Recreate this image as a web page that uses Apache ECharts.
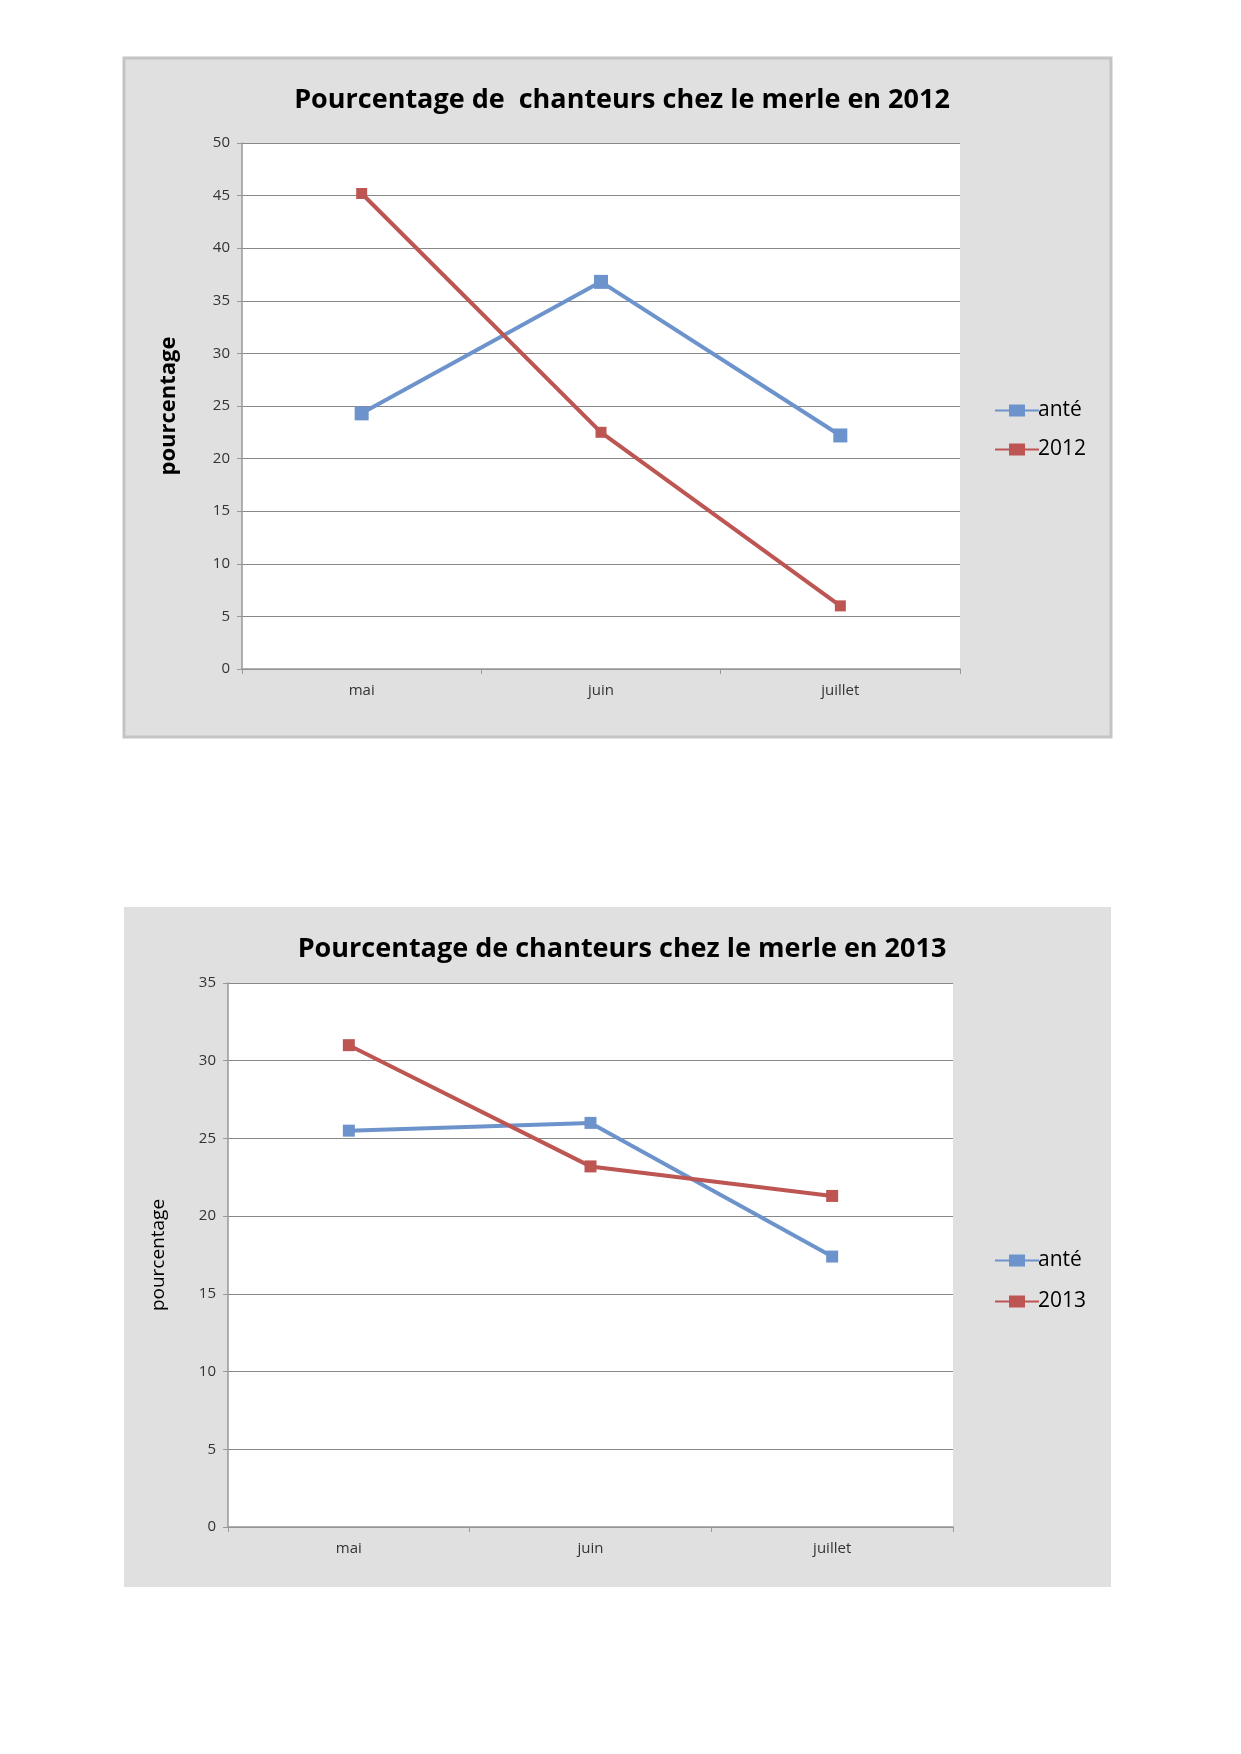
<!DOCTYPE html>
<html><head><meta charset="utf-8">
<script src="https://cdn.jsdelivr.net/npm/echarts@6/dist/echarts.min.js"></script>
<style>html,body{margin:0;background:#fff}#c{width:1241px;height:1754px}</style>
</head><body><div id="c"></div>
<script>
const categories = ['mai','juin','juillet'];
const ante2012 = [24.3, 36.8, 22.2];
const s2012 = [45.2, 22.5, 6.0];
const ante2013 = [25.5, 26.0, 17.4];
const s2013 = [31.0, 23.2, 21.3];
const BLUE = '#6d93cc', RED = '#bd5553';
const chart = echarts.init(document.getElementById('c'));
const font = 'Open Sans';
function xAxis(i){return {type:'category',gridIndex:i,data:categories,boundaryGap:true,
 axisLine:{lineStyle:{color:'#999',width:1.5}},axisTick:{show:true,alignWithLabel:false,length:5,lineStyle:{color:'#999'}},
 axisLabel:{color:'#333',fontSize:15,fontFamily:font,margin:14}};}
function yAxis(i,max){return {type:'value',gridIndex:i,min:0,max:max,interval:5,name:'pourcentage',nameLocation:'middle',nameGap:i?60:62,
 nameTextStyle:{fontSize:i?19:22,fontWeight:i?'normal':'bold',fontFamily:font,color:'#000'},
 axisLine:{show:true,lineStyle:{color:'#999',width:1.5}},axisTick:{show:true,length:5,lineStyle:{color:'#999'}},
 splitLine:{lineStyle:{color:'#888',width:1.2}},axisLabel:{color:'#333',fontSize:15,fontFamily:font,margin:12}};}
function line(name,data,color,i,sym){return {name:name,type:'line',xAxisIndex:i,yAxisIndex:i,data:data,
 symbol:'rect',symbolSize:sym,lineStyle:{color:color,width:4},itemStyle:{color:color},animation:false};}
chart.setOption({
 animation:false,
 graphic:[
  {type:'rect',z:-10,shape:{x:124,y:58,width:987,height:679},style:{fill:'#e0e0e0',stroke:'#c4c4c4',lineWidth:3}},
  {type:'rect',z:-10,shape:{x:124,y:907,width:987,height:680},style:{fill:'#e0e0e0'}}
 ],
 title:[
  {text:'Pourcentage de  chanteurs chez le merle en 2012',left:617,top:82,textAlign:'center',textStyle:{fontSize:27,fontWeight:'bold',fontFamily:font,color:'#000'}},
  {text:'Pourcentage de chanteurs chez le merle en 2013',left:617,top:931,textAlign:'center',textStyle:{fontSize:27,fontWeight:'bold',fontFamily:font,color:'#000'}}
 ],
 grid:[
  {left:242,top:143,width:718,height:526,backgroundColor:'#fff',show:true,borderWidth:0},
  {left:228,top:983,width:725,height:544,backgroundColor:'#fff',show:true,borderWidth:0}
 ],
 legend:[
  {data:['anté','2012'],orient:'vertical',left:990,top:395,itemGap:18,itemWidth:44,itemHeight:12,icon:'path://M0,5h14v-5h16v5h14v2h-14v5h-16v-5h-14z',
   textStyle:{fontSize:21,fontFamily:font,color:'#000',padding:[0,0,0,-6]}},
  {data:['anté','2013'],orient:'vertical',left:990,top:1245,itemGap:20,itemWidth:44,itemHeight:12,icon:'path://M0,5h14v-5h16v5h14v2h-14v5h-16v-5h-14z',
   textStyle:{fontSize:21,fontFamily:font,color:'#000',padding:[0,0,0,-6]}}
 ],
 xAxis:[xAxis(0),xAxis(1)],
 yAxis:[yAxis(0,50),yAxis(1,35)],
 series:[
  line('anté',ante2012,BLUE,0,14),line('2012',s2012,RED,0,11),
  line('anté',ante2013,BLUE,1,12),line('2013',s2013,RED,1,12)
 ]
});
</script></body></html>
